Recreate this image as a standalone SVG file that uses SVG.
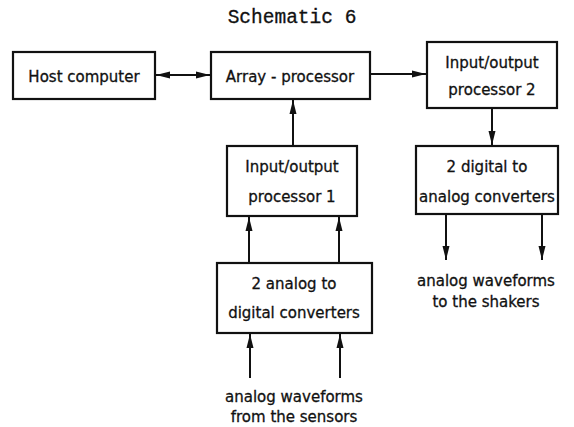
<svg xmlns="http://www.w3.org/2000/svg" width="574" height="427" viewBox="0 0 574 427">
<defs>
<marker id="ah" viewBox="0 0 14 8" refX="14" refY="4" markerWidth="14" markerHeight="8" markerUnits="userSpaceOnUse" orient="auto-start-reverse">
<path d="M0,0.5 L14,4 L0,7.5 Z" fill="#111"/>
</marker>
<style>
.box{fill:#fff;stroke:#111;stroke-width:2.2}
.t{font-family:"DejaVu Sans","Liberation Sans",sans-serif;font-size:15px;fill:#111;stroke:#111;stroke-width:0.3;text-anchor:middle}
.title{font-family:"Liberation Mono","DejaVu Sans Mono",monospace;font-size:19.5px;fill:#111;stroke:#111;stroke-width:0.3;text-anchor:middle}
.c{stroke:#111;stroke-width:2;fill:none}
</style>
</defs>
<rect width="574" height="427" fill="#fff"/>
<text class="title" x="292" y="23">Schematic 6</text>
<g id="host"><rect class="box" x="13" y="52" width="142" height="47"/><text class="t" x="84" y="82">Host computer</text></g>
<g id="array"><rect class="box" x="211" y="52" width="159" height="47"/><text class="t" x="290" y="82">Array - processor</text></g>
<g id="io2"><rect class="box" x="427" y="42" width="130" height="66"/><text class="t" x="492" y="68">Input/output</text><text class="t" x="492" y="95">processor 2</text></g>
<g id="io1"><rect class="box" x="227" y="146" width="130" height="70"/><text class="t" x="292" y="172">Input/output</text><text class="t" x="292" y="202">processor 1</text></g>
<g id="adc"><rect class="box" x="217" y="263" width="155" height="70"/><text class="t" x="294" y="289">2 analog to</text><text class="t" x="294" y="318">digital converters</text></g>
<g id="dac"><rect class="box" x="416" y="146" width="142" height="68"/><text class="t" x="487" y="172">2 digital to</text><text class="t" x="487" y="202">analog converters</text></g>
<g id="labels">
<text class="t" x="294" y="402">analog waveforms</text>
<text class="t" x="294" y="422">from the sensors</text>
<text class="t" x="486" y="286">analog waveforms</text>
<text class="t" x="486" y="307">to the shakers</text>
</g>
<g id="connectors">
<line class="c" x1="156" y1="75" x2="210" y2="75" marker-start="url(#ah)" marker-end="url(#ah)"/>
<line class="c" x1="371" y1="74" x2="426" y2="74" marker-end="url(#ah)"/>
<line class="c" x1="293" y1="146" x2="293" y2="100" marker-end="url(#ah)"/>
<line class="c" x1="492" y1="108" x2="492" y2="145" marker-end="url(#ah)"/>
<line class="c" x1="249" y1="263" x2="249" y2="217" marker-end="url(#ah)"/>
<line class="c" x1="339" y1="263" x2="339" y2="217" marker-end="url(#ah)"/>
<line class="c" x1="250" y1="378" x2="250" y2="334" marker-end="url(#ah)"/>
<line class="c" x1="340" y1="378" x2="340" y2="334" marker-end="url(#ah)"/>
<line class="c" x1="446" y1="214" x2="446" y2="260" marker-end="url(#ah)"/>
<line class="c" x1="542" y1="214" x2="542" y2="260" marker-end="url(#ah)"/>
</g>
</svg>
